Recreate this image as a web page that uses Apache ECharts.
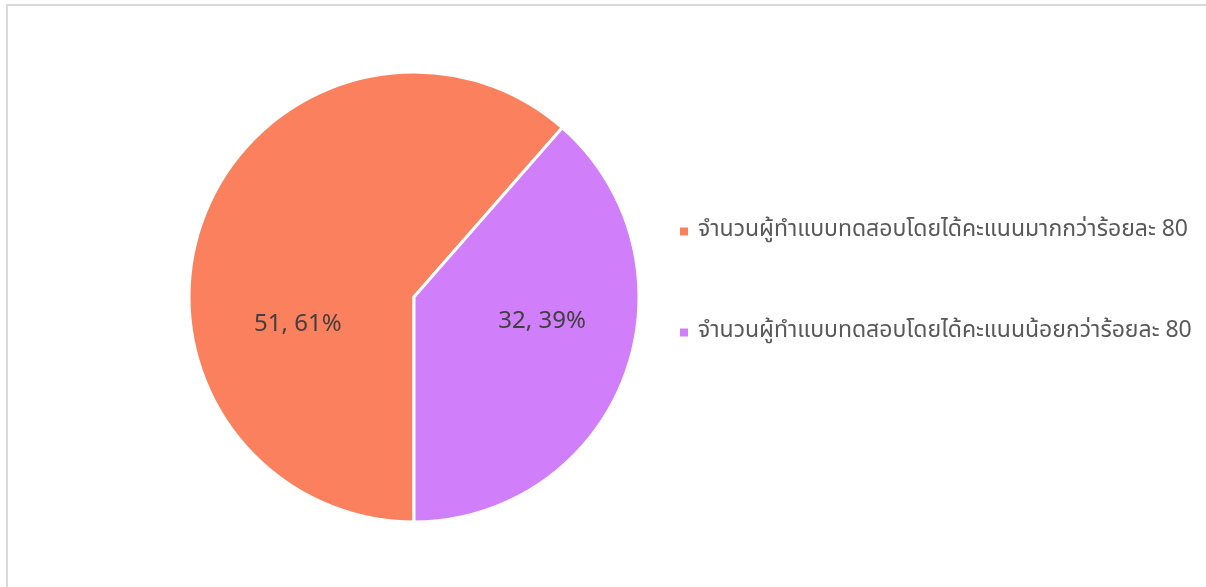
<!DOCTYPE html>
<html>
<head>
<meta charset="utf-8">
<script src="https://cdn.jsdelivr.net/npm/echarts@6/dist/echarts.min.js"></script>
<style>
  html, body { margin: 0; padding: 0; background: #fff; overflow: hidden; }
  .frame {
    position: absolute;
    left: 6px;
    top: 4px;
    width: 1220px;
    height: 620px;
    border: 2px solid #dadada;
  }
  #chart {
    position: absolute;
    left: 0;
    top: 0;
    width: 1206px;
    height: 587px;
  }
</style>
</head>
<body>
<div class="frame"></div>
<div id="chart"></div>
<script>
// categories and values
var categories = [
  'จำนวนผู้ทำแบบทดสอบโดยได้คะแนนมากกว่าร้อยละ 80',
  'จำนวนผู้ทำแบบทดสอบโดยได้คะแนนน้อยกว่าร้อยละ 80',
];
var counts = [51, 32];
var colors = ['#fb815e', '#d07ef9'];

var fontFamily = "'Noto Sans Thai', 'Leelawadee UI', Tahoma, 'Noto Sans', sans-serif";

var chart = echarts.init(document.getElementById('chart'));
var total = counts.reduce(function (a, b) { return a + b; }, 0);

// nudge the inside labels to where the original puts them
var labelShift = [
  { dx: -8, dy: 70 },
  { dx: 20, dy: -15 },
];

chart.setOption({
  animation: false,
  color: colors,
  legend: {
    orient: 'vertical',
    left: 678,
    top: 220,
    padding: 0,
    itemWidth: 10,
    itemHeight: 10,
    itemGap: 78,
    icon: 'rect',
    textStyle: {
      color: '#595959',
      fontSize: 23,
      fontFamily: fontFamily,
      padding: [0, 0, 0, 4],
    },
    data: categories,
  },
  series: [
    {
      type: 'pie',
      center: [414, 297],
      radius: 225,
      startAngle: -90,
      clockwise: true,
      itemStyle: {
        borderColor: '#fff',
        borderWidth: 3,
      },
      label: {
        position: 'inside',
        color: '#404040',
        fontSize: 24,
        fontFamily: fontFamily,
        formatter: function (p) {
          return p.value + ', ' + Math.round((p.value / total) * 100) + '%';
        },
      },
      labelLayout: function (p) {
        return labelShift[p.dataIndex];
      },
      labelLine: { show: false },
      data: categories.map(function (name, i) {
        return { name: name, value: counts[i] };
      }),
    },
  ],
});
</script>
</body>
</html>
